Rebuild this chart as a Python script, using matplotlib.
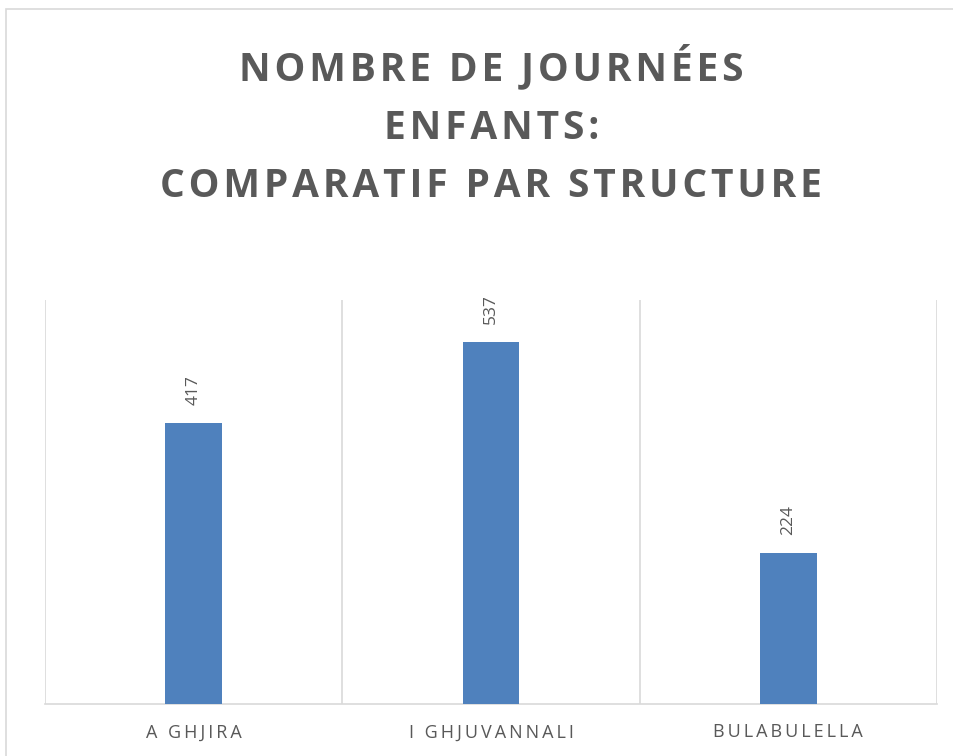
import matplotlib
matplotlib.use("Agg")
from matplotlib import pyplot as plt
from matplotlib.patches import Rectangle

# chart data
categories = ["A GHJIRA", "I GHJUVANNALI", "BULABULELLA"]
values = [417, 537, 224]
title_lines = ["NOMBRE DE JOURNÉES", "ENFANTS:", "COMPARATIF PAR STRUCTURE"]

BAR_COLOR = "#4F81BD"
TEXT_COLOR = "#595959"
GRID_COLOR = "#D9D9D9"

plt.rcParams['font.family'] = ['Open Sans', 'DejaVu Sans']


def spaced(s, gap="\u200a"):
    """Fake letter spacing by putting hair spaces between characters"""
    return gap.join(s)


fig = plt.figure(figsize=(9.54, 7.56), dpi=100)
fig.patch.set_facecolor("white")

# outer chart border (cropped on right / bottom in the reference)
fig.patches.append(Rectangle((6 / 954, -0.1), 1.2, 1 - 9 / 756 + 0.1,
                             transform=fig.transFigure, fill=False,
                             edgecolor=GRID_COLOR, linewidth=1.2))

ax = fig.add_axes([45 / 954, 1 - 704 / 756, (937 - 45) / 954, (704 - 300) / 756])

x = list(range(len(categories)))
ax.bar(x, values, width=0.19, color=BAR_COLOR, zorder=3)
ax.set_xlim(-0.5, len(categories) - 0.5)
ax.set_ylim(0, 600)

# category separators
for sep in [i - 0.5 for i in range(len(categories) + 1)]:
    ax.axvline(sep, color=GRID_COLOR, linewidth=1.2, zorder=1)

for spine in ["top", "right", "left"]:
    ax.spines[spine].set_visible(False)
ax.spines["bottom"].set_color(GRID_COLOR)
ax.spines["bottom"].set_linewidth(1.2)

ax.set_yticks([])
ax.set_xticks(x)
ax.set_xticklabels([spaced(c, "\u2009") for c in categories], color=TEXT_COLOR, fontsize=13)
ax.tick_params(axis="x", length=0, pad=14)

for xi, v in zip(x, values):
    ax.annotate(str(v), (xi, v), xytext=(0, 13), textcoords="offset points",
                rotation=90, ha="center", va="bottom", color=TEXT_COLOR, fontsize=12.5)

fig.text(0.515, 1 - 125 / 756, "\n".join(spaced(t, "\u200a") for t in title_lines),
         ha="center", va="center", fontsize=28, fontweight="bold", color=TEXT_COLOR,
         linespacing=1.64)

fig.savefig("out.png", dpi=100)
